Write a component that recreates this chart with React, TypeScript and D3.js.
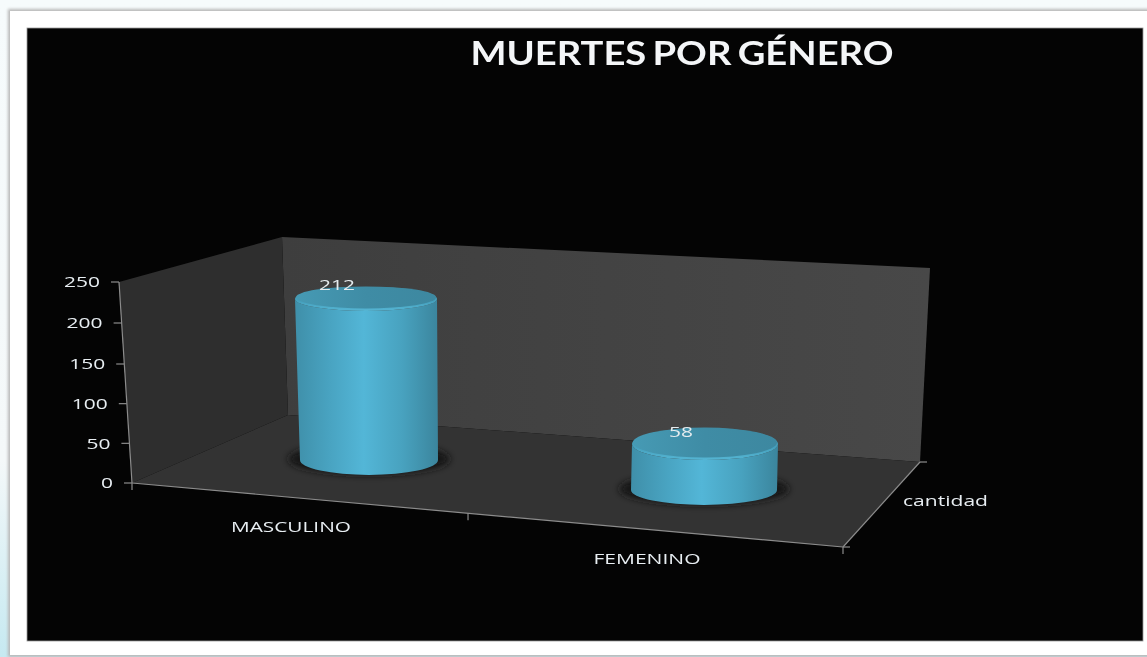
import React from 'react'
import * as d3 from 'd3'

const categories = ['MASCULINO', 'FEMENINO']
const cantidad = [212, 58]
const yTicks = [0, 50, 100, 150, 200, 250]
const seriesName = 'cantidad'
const title = 'MUERTES POR GÉNERO'

const W = 1147
const H = 657

// esquinas de la caja 3D
const frontLeft: [number, number] = [132, 483]
const frontRight: [number, number] = [843, 547]
const backLeft: [number, number] = [288, 415]
const backRight: [number, number] = [920, 462]
const topFrontLeft: [number, number] = [119, 282]
const topBackLeft: [number, number] = [282, 237]
const topBackRight: [number, number] = [930, 268]

const poly = d3.line().curve(d3.curveLinearClosed)

// escalas
const yScale = d3.scaleLinear().domain([0, 150, 250]).range([483, 364, 282])
const axisX = d3.scaleLinear().domain([0, 250]).range([132, 119])
const cx = d3.scalePoint<string>().domain(categories).range([369, 704])
const baseY = d3.scalePoint<string>().domain(categories).range([460, 490])
const topShift = d3.scalePoint<string>().domain(categories).range([-3, 1])
const perspective = d3.scalePoint<string>().domain(categories).range([190, 198])
const topRx = d3.scalePoint<string>().domain(categories).range([71, 73])
const bottomRx = d3.scalePoint<string>().domain(categories).range([69, 73])
const topRy = d3.scalePoint<string>().domain(categories).range([12, 16])
const frontEdgeX = d3.scaleLinear().domain([0, 1]).range([frontLeft[0], frontRight[0]])
const frontEdgeY = d3.scaleLinear().domain([0, 1]).range([frontLeft[1], frontRight[1]])
const depthX = d3.scaleLinear().domain([0, 1]).range([frontRight[0], backRight[0]])
const depthY = d3.scaleLinear().domain([0, 1]).range([frontRight[1], backRight[1]])

const RY_BOTTOM = 15

const Cylinder: React.FC<{ name: string; value: number }> = ({ name, value }) => {
  const h = d3.scaleLinear().domain([0, 250]).range([0, perspective(name)!])
  const x0 = cx(name)!
  const y0 = baseY(name)!
  const x1 = x0 + topShift(name)!
  const y1 = y0 - h(value)
  const rxT = topRx(name)!
  const rxB = bottomRx(name)!
  const ryT = topRy(name)!
  const body = `M${x1 - rxT},${y1} L${x0 - rxB},${y0} A${rxB},${RY_BOTTOM} 0 0 0 ${x0 + rxB},${y0} L${x1 + rxT},${y1} A${rxT},${ryT} 0 0 1 ${x1 - rxT},${y1} Z`
  return (
    <g>
      <ellipse cx={x0} cy={y0 - 1} rx={rxB + 12} ry={RY_BOTTOM + 1} fill="#141414" filter="url(#soft)" />
      <path d={body} fill="url(#bodyGrad)" />
      <ellipse cx={x1} cy={y1} rx={rxT} ry={ryT} fill="url(#rimGrad)" />
      <ellipse cx={x1} cy={y1 - 1.5} rx={rxT - 1} ry={ryT - 1} fill="url(#topGrad)" />
    </g>
  )
}

export default function App() {
  const wallBack = poly([topBackLeft, topBackRight, backRight, backLeft])!
  const wallLeft = poly([topFrontLeft, topBackLeft, backLeft, frontLeft])!
  const floor = poly([frontLeft, backLeft, backRight, frontRight])!

  const catTicks = [0, 0.4726, 1]
  const depthTicks = [0, 1]
  const labelFont = '"Open Sans", "Noto Sans", sans-serif'

  return (
    <svg
      width={W}
      height={H}
      viewBox={`0 0 ${W} ${H}`}
      style={{ position: 'absolute', left: 0, top: 0, display: 'block' }}
    >
      <defs>
        <linearGradient id="pageGrad" x1="0" y1="0" x2="0" y2="1">
          <stop offset="0" stopColor="#f6fbfc" />
          <stop offset="0.7" stopColor="#f4f8f9" />
          <stop offset="1" stopColor="#c6e9f1" />
        </linearGradient>
        <linearGradient id="bodyGrad" x1="0" y1="0" x2="1" y2="0">
          <stop offset="0" stopColor="#3f8fa9" />
          <stop offset="0.25" stopColor="#49a4c2" />
          <stop offset="0.48" stopColor="#53b6d7" />
          <stop offset="0.75" stopColor="#48a2bf" />
          <stop offset="1" stopColor="#3b859d" />
        </linearGradient>
        <linearGradient id="rimGrad" x1="0" y1="0" x2="0" y2="1">
          <stop offset="0" stopColor="#3f8ca5" />
          <stop offset="0.6" stopColor="#45a0bd" />
          <stop offset="1" stopColor="#55b5d3" />
        </linearGradient>
        <linearGradient id="topGrad" x1="0" y1="0" x2="1" y2="0">
          <stop offset="0" stopColor="#469ab4" />
          <stop offset="0.5" stopColor="#3f8ca5" />
          <stop offset="1" stopColor="#3d88a0" />
        </linearGradient>
        <linearGradient id="backGrad" x1="0" y1="0" x2="1" y2="0">
          <stop offset="0" stopColor="#3e3e3e" />
          <stop offset="1" stopColor="#484848" />
        </linearGradient>
        <filter id="soft" x="-20%" y="-50%" width="140%" height="200%">
          <feGaussianBlur stdDeviation="3.5" />
        </filter>
        <filter id="panelShadow" x="-2%" y="-2%" width="104%" height="104%">
          <feGaussianBlur stdDeviation="1.5" />
        </filter>
        <filter id="textBlur" x="-5%" y="-20%" width="110%" height="140%">
          <feGaussianBlur stdDeviation="0.5" />
        </filter>
      </defs>

      <rect width={W} height={H} fill="url(#pageGrad)" />
      <rect x={8} y={9} width={W} height={648} fill="#b8b8b8" filter="url(#panelShadow)" />
      <rect x={10} y={11} width={W} height={644} fill="#ffffff" />
      <rect x={27} y={28} width={1116} height={613} fill="#040404" stroke="#9a9a9a" strokeWidth={0.8} />

      <path d={wallBack} fill="url(#backGrad)" />
      <path d={wallLeft} fill="#2e2e2e" />
      <path d={floor} fill="#333333" />

      {/* eje de valores */}
      <line
        x1={axisX(0)}
        y1={yScale(0)}
        x2={axisX(250)}
        y2={yScale(250)}
        stroke="#8c8c8c"
        strokeWidth={1.2}
      />
      {yTicks.map(t => (
        <g key={t}>
          <line
            x1={axisX(t) - 8}
            y1={yScale(t)}
            x2={axisX(t)}
            y2={yScale(t)}
            stroke="#8c8c8c"
            strokeWidth={1.2}
          />
          <text
            x={113 - (t / 250) * 13}
            y={yScale(t)}
            dy="0.36em"
            textAnchor="end"
            fontFamily={labelFont}
            fontSize={15}
            fill="#e8eef2"
            filter="url(#textBlur)"
            textLength={String(t).length * 12}
            lengthAdjust="spacingAndGlyphs"
          >
            {t}
          </text>
        </g>
      ))}

      {/* eje de categorias */}
      <line
        x1={frontLeft[0]}
        y1={frontLeft[1]}
        x2={frontRight[0]}
        y2={frontRight[1]}
        stroke="#8c8c8c"
        strokeWidth={1.2}
      />
      {catTicks.map(t => (
        <line
          key={t}
          x1={frontEdgeX(t)}
          y1={frontEdgeY(t)}
          x2={frontEdgeX(t)}
          y2={frontEdgeY(t) + 7}
          stroke="#8c8c8c"
          strokeWidth={1.2}
        />
      ))}

      {/* eje de profundidad */}
      <line
        x1={depthX(0)}
        y1={depthY(0)}
        x2={depthX(1)}
        y2={depthY(1)}
        stroke="#8c8c8c"
        strokeWidth={1.2}
      />
      {depthTicks.map(t => (
        <line
          key={t}
          x1={depthX(t)}
          y1={depthY(t)}
          x2={depthX(t) + 7}
          y2={depthY(t)}
          stroke="#8c8c8c"
          strokeWidth={1.2}
        />
      ))}

      {categories.map((c, i) => (
        <Cylinder key={c} name={c} value={cantidad[i]} />
      ))}

      {categories.map((c, i) => {
        const h = d3.scaleLinear().domain([0, 250]).range([0, perspective(c)!])
        return (
          <text
            key={c}
            x={cx(c)! + topShift(c)! + (i === 0 ? -29 : -24)}
            y={baseY(c)! - h(cantidad[i]) + (i === 0 ? -14 : -12)}
            dy="0.36em"
            textAnchor="middle"
            fontFamily={labelFont}
            fontSize={15}
            fill="#e6ecef"
            filter="url(#textBlur)"
            textLength={String(cantidad[i]).length * 12}
            lengthAdjust="spacingAndGlyphs"
          >
            {cantidad[i]}
          </text>
        )
      })}

      {categories.map((c, i) => (
        <text
          key={c}
          x={i === 0 ? 291 : 647}
          y={i === 0 ? 527 : 559}
          dy="0.36em"
          textAnchor="middle"
          fontFamily={labelFont}
          fontSize={14}
          fill="#e8eef2"
          filter="url(#textBlur)"
          textLength={i === 0 ? 120 : 107}
          lengthAdjust="spacingAndGlyphs"
        >
          {c}
        </text>
      ))}

      <text
        x={903}
        y={501}
        dy="0.36em"
        fontFamily={labelFont}
        fontSize={15}
        fill="#e8eef2"
        filter="url(#textBlur)"
        textLength={85}
        lengthAdjust="spacingAndGlyphs"
      >
        {seriesName}
      </text>

      <text
        x={682}
        y={53}
        dy="0.36em"
        textAnchor="middle"
        fontFamily="Lato, 'Open Sans', sans-serif"
        fontWeight={700}
        fontSize={32}
        wordSpacing={-2.5}
        fill="#f4f6f8"
        filter="url(#textBlur)"
        textLength={423}
        lengthAdjust="spacingAndGlyphs"
      >
        {title}
      </text>
    </svg>
  )
}
